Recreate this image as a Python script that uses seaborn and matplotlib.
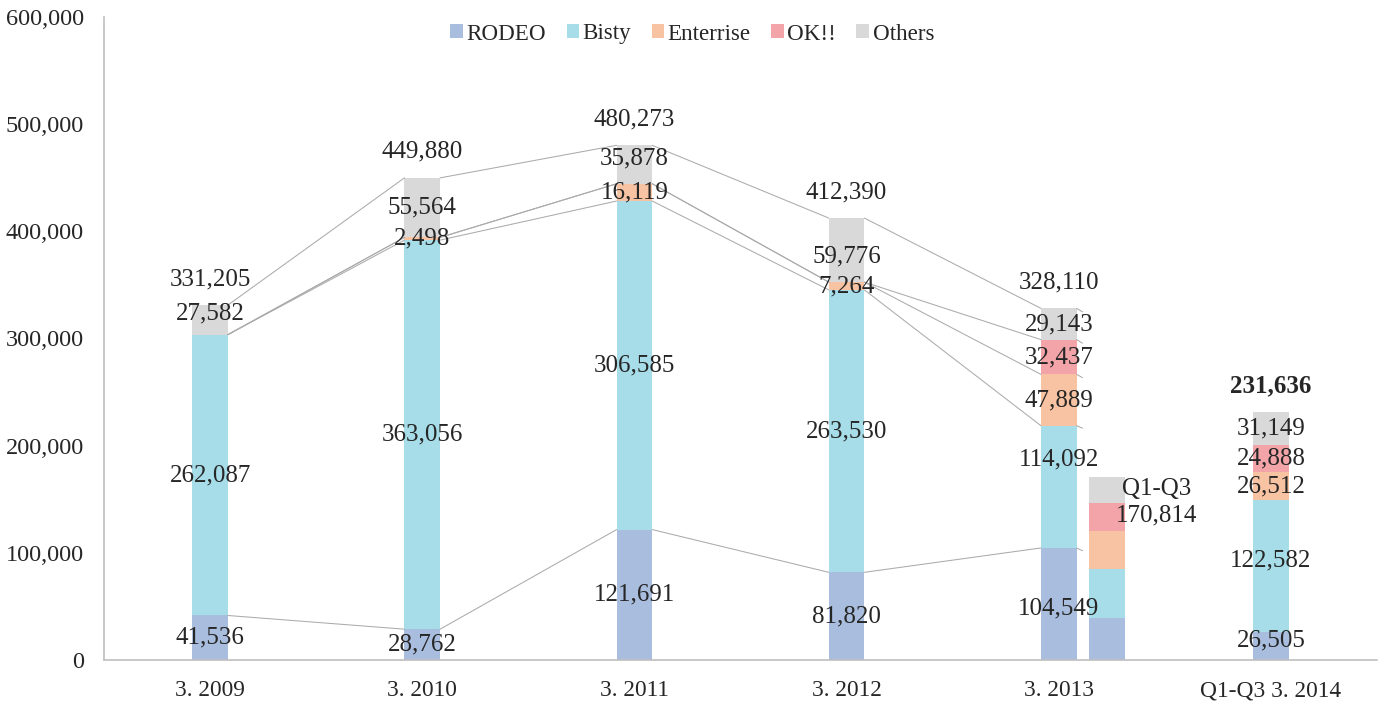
import numpy as np
import pandas as pd
import matplotlib
matplotlib.use("Agg")
import matplotlib.pyplot as plt
import seaborn as sns
from matplotlib.patches import Patch
from matplotlib.ticker import FuncFormatter, FixedLocator

# ---------------- data ----------------
categories = ["3. 2009", "3. 2010", "3. 2011", "3. 2012", "3. 2013", "Q1-Q3 3. 2014"]
series_names = ["RODEO", "Bisty", "Enterrise", "OK!!", "Others"]
rodeo = [41536, 28762, 121691, 81820, 104549, 26505]
bisty = [262087, 363056, 306585, 263530, 114092, 122582]
enterrise = [0, 2498, 16119, 7264, 47889, 26512]
ok = [0, 0, 0, 0, 32437, 24888]
others = [27582, 55564, 35878, 59776, 29143, 31149]
totals = [331205, 449880, 480273, 412390, 328110, 231636]

# extra bar: Q1-Q3 of 3. 2013 (segment values)
extra_label = "Q1-Q3"
extra_values = [39100, 45700, 35700, 25900, 24414]
extra_total = 170814

colors = ["#A9BEDF", "#A6DDE9", "#F8C3A2", "#F2A4A8", "#D9D9D9"]

# ---------------- layout ----------------
sns.set_style("white")
plt.rcParams["font.family"] = ["Liberation Serif", "DejaVu Serif"]

PX = 72 / 100  # points per pixel at dpi 100

fig = plt.figure(figsize=(13.79, 7.02), dpi=100)
ax = fig.add_axes([104 / 1379, 1 - 660 / 702, (1377 - 104) / 1379, (660 - 17) / 702])

BAR_W = 0.168
EXTRA_POS = 4.226

series = [rodeo, bisty, enterrise, ok, others]
main_pos = list(range(len(categories)))
rows = []
for k, name in enumerate(series_names):
    for i, p in enumerate(main_pos):
        rows.append(dict(pos=float(p), series=name, k=k, value=series[k][i]))
    rows.append(dict(pos=EXTRA_POS, series=name, k=k, value=extra_values[k]))
df = pd.DataFrame(rows).sort_values(["pos", "k"])
df["cum"] = df.groupby("pos")["value"].cumsum()

positions = np.sort(df["pos"].unique())
native = np.min(np.diff(positions))
rel_w = BAR_W / native

for k in reversed(range(len(series_names))):
    sub = df[df["k"] == k]
    sns.barplot(data=sub, x="pos", y="cum", native_scale=True, width=rel_w,
                color=colors[k], saturation=1, errorbar=None, linewidth=0,
                ax=ax)

# series lines between main bars
cum_main = np.cumsum(np.array(series, dtype=float), axis=0)
hw = BAR_W / 2
line_kw = dict(color="#ABABAB", lw=0.75, zorder=1)
for i in range(4):
    for k in range(len(series_names)):
        ax.plot([i + hw, i + 1 - hw], [cum_main[k][i], cum_main[k][i + 1]], **line_kw)
# short stubs leaving 3. 2013 toward next category
for k in range(len(series_names)):
    x0, x1 = 4 + hw, 5 - hw
    y0, y1 = cum_main[k][4], cum_main[k][5]
    frac = 0.028 / (x1 - x0)
    ax.plot([x0, x0 + (x1 - x0) * frac], [y0, y0 + (y1 - y0) * frac], **line_kw)

# ---------------- labels ----------------
nudge = {(0, 4): 6, (2, 4): 6, (3, 4): -6, (4, 1): 27, (5, 1): 5, (5, 0): 5, (4, 0): -4}
LABEL_FS = 18
for i in main_pos:
    base = 0.0
    for k in range(len(series_names)):
        v = series[k][i]
        if v > 0:
            dy = nudge.get((i, k), 0) * PX
            ax.annotate(f"{v:,}", (i, base + v / 2), xytext=(0, dy),
                        textcoords="offset points", ha="center", va="center",
                        fontsize=LABEL_FS, zorder=5)
        base += v
    ax.annotate(f"{totals[i]:,}", (i, totals[i]), xytext=(0, 26 * PX),
                textcoords="offset points", ha="center", va="center",
                fontsize=LABEL_FS, fontweight="bold" if i == 5 else "normal", zorder=5)

ax.annotate(f"{extra_label}\n{extra_total:,}", (EXTRA_POS + hw, extra_total),
            xytext=(32 * PX, -25 * PX), textcoords="offset points",
            ha="center", va="center", fontsize=LABEL_FS, linespacing=1.25, zorder=5)

# ---------------- axes ----------------
ax.set_xlim(-0.5, 5.5)
ax.set_ylim(0, 600000)
ax.set_yticks(np.arange(0, 600001, 100000))
ax.yaxis.set_major_formatter(FuncFormatter(lambda v, p: f"{int(v):,}"))
ax.xaxis.set_major_locator(FixedLocator(np.arange(-0.5, 5.6, 1.0)))
ax.xaxis.set_major_formatter(FuncFormatter(lambda v, p: ""))
ax.xaxis.set_minor_locator(FixedLocator(main_pos))
ax.set_xticklabels(categories, minor=True)
ax.tick_params(axis="x", which="major", direction="out", length=7 * PX, color="#BFBFBF", width=1)
ax.tick_params(axis="x", which="minor", length=0, pad=20 * PX, labelsize=16.8)
ax.tick_params(axis="y", direction="out", length=7 * PX, color="#BFBFBF", width=1,
               pad=13 * PX, labelsize=17.5)
ax.set_xlabel("")
ax.set_ylabel("")
for s in ["top", "right"]:
    ax.spines[s].set_visible(False)
for s in ["left", "bottom"]:
    ax.spines[s].set_color("#BFBFBF")
    ax.spines[s].set_linewidth(1.2)

handles = [Patch(facecolor=c, edgecolor="none") for c in colors]
fig.legend(handles, series_names, loc="center", bbox_to_anchor=(0.502, 1 - 34 / 702),
           ncol=5, frameon=False, fontsize=16.6, handlelength=0.55, handleheight=0.55,
           handletextpad=0.15, columnspacing=0.88, borderaxespad=0)

fig.savefig("out.png", dpi=100)
